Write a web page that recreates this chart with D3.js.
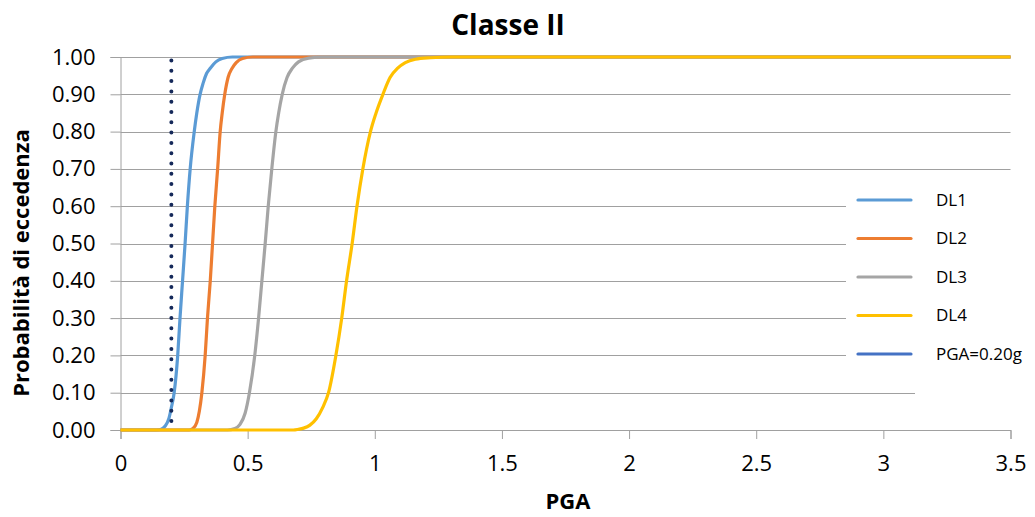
<!DOCTYPE html>
<html>
<head>
<meta charset="utf-8">
<script src="https://cdn.jsdelivr.net/npm/d3@7/dist/d3.min.js"></script>
<style>
  html, body { margin: 0; padding: 0; background: #fff; }
  svg { display: block; }
  text { font-family: "Open Sans", "Noto Sans", sans-serif; fill: #000; }
</style>
</head>
<body>
<svg id="chart" width="1035" height="517"></svg>
<script>
// Fragility curves, class II: probability of exceedance vs PGA (g)
const seriesNames = ["DL1", "DL2", "DL3", "DL4"];
const seriesColors = ["#5B9BD5", "#ED7D31", "#A5A5A5", "#FFC000"];

const dl1Pga  = [0, 0.14, 0.16,  0.175, 0.19, 0.20, 0.211, 0.225, 0.234, 0.244, 0.254, 0.263, 0.274, 0.290, 0.300, 0.313, 0.325, 0.338, 0.353, 0.375, 0.40,  0.44, 3.5];
const dl1Prob = [0, 0,    0.002, 0.01,  0.03, 0.06, 0.10,  0.20,  0.30,  0.40,  0.50,  0.60,  0.70,  0.80,  0.85,  0.90,  0.93,  0.955, 0.97,  0.987, 0.996, 1.0,  1.0];

const dl2Pga  = [0, 0.27, 0.285, 0.30, 0.31, 0.320, 0.333, 0.342, 0.353, 0.362, 0.371, 0.382, 0.392, 0.400, 0.410, 0.423, 0.439, 0.455, 0.48,  0.52, 3.5];
const dl2Prob = [0, 0,    0.004, 0.02, 0.05, 0.10,  0.20,  0.30,  0.40,  0.50,  0.60,  0.70,  0.80,  0.85,  0.90,  0.945, 0.97,  0.985, 0.996, 1.0,  1.0];

const dl3Pga  = [0, 0.42, 0.45,  0.47,  0.49,  0.507, 0.528, 0.543, 0.556, 0.569, 0.581, 0.595, 0.611, 0.622, 0.636, 0.655, 0.676, 0.70,  0.74,  0.80, 3.5];
const dl3Prob = [0, 0,    0.004, 0.015, 0.045, 0.10,  0.20,  0.30,  0.40,  0.50,  0.60,  0.70,  0.80,  0.85,  0.90,  0.945, 0.97,  0.987, 0.997, 1.0,  1.0];

const dl4Pga  = [0, 0.68, 0.70,  0.72,  0.745, 0.77, 0.795, 0.818, 0.847, 0.870, 0.889, 0.911, 0.930, 0.953, 0.983, 1.005, 1.032, 1.06,  1.09, 1.12,  1.16,  1.22,  1.30, 3.5];
const dl4Prob = [0, 0,    0.002, 0.005, 0.013, 0.03, 0.06,  0.10,  0.20,  0.30,  0.40,  0.50,  0.60,  0.70,  0.80,  0.85,  0.90,  0.945, 0.97, 0.985, 0.994, 0.998, 1.0,  1.0];

const seriesPga  = [dl1Pga, dl2Pga, dl3Pga, dl4Pga];
const seriesProb = [dl1Prob, dl2Prob, dl3Prob, dl4Prob];

// Reference shaking level
const refPga = 0.20;
const refLabel = "PGA=0.20g";
const refColor = "#15295A";
const refLegendColor = "#4472C4";

const xTicks = [0, 0.5, 1, 1.5, 2, 2.5, 3, 3.5];
const yTicks = [0, 0.1, 0.2, 0.3, 0.4, 0.5, 0.6, 0.7, 0.8, 0.9, 1.0];

const titleText = "Classe II";
const xTitle = "PGA";
const yTitle = "Probabilità di eccedenza";

const svg = d3.select("#chart");
const W = 1035, H = 517;
const plot = { left: 120.5, right: 1010.5, top: 57, bottom: 430 };

const x = d3.scaleLinear().domain([0, 3.5]).range([plot.left, plot.right]);
const y = d3.scaleLinear().domain([0, 1]).range([plot.bottom, plot.top]);

const gridColor = "#A0A0A0";

// Horizontal gridlines with small ticks left of the axis
const yAxis = d3.axisLeft(y).tickValues(yTicks).tickSize(10).tickPadding(15)
  .tickFormat(d3.format(".2f"));
const gy = svg.append("g").attr("transform", `translate(${plot.left},0)`).call(yAxis);
gy.select(".domain").attr("stroke", gridColor);
gy.selectAll(".tick line").attr("stroke", gridColor);
gy.selectAll(".tick text").attr("font-size", 22).attr("fill", "#000")
  .attr("font-family", "'Open Sans', sans-serif");

svg.append("g").selectAll("line.grid").data(yTicks.filter(d => d > 0)).join("line")
  .attr("class", "grid")
  .attr("x1", plot.left).attr("x2", plot.right)
  .attr("y1", d => Math.round(y(d)) + 0.5).attr("y2", d => Math.round(y(d)) + 0.5)
  .attr("stroke", gridColor).attr("stroke-width", 1.2);

// X axis with ticks hanging below
const xAxis = d3.axisBottom(x).tickValues(xTicks).tickSize(9).tickPadding(16)
  .tickFormat(d => d3.format("")(d));
const gx = svg.append("g").attr("transform", `translate(0,${plot.bottom})`).call(xAxis);
gx.select(".domain").attr("stroke", gridColor);
gx.selectAll(".tick line").attr("stroke", gridColor);
gx.selectAll(".tick text").attr("font-size", 22).attr("fill", "#000")
  .attr("font-family", "'Open Sans', sans-serif");

// Legend background hides the gridlines behind it
svg.append("rect").attr("x", 846).attr("y", 178).attr("width", W - 846).attr("height", 200).attr("fill", "#fff");
svg.append("rect").attr("x", 915).attr("y", 376).attr("width", W - 915).attr("height", 20).attr("fill", "#fff");

// Curves
const line = d3.line().x(d => x(d[0])).y(d => y(d[1])).curve(d3.curveMonotoneX);
seriesNames.forEach((name, i) => {
  const pts = seriesPga[i].map((v, j) => [v, seriesProb[i][j]]);
  svg.append("path").datum(pts)
    .attr("d", line)
    .attr("fill", "none")
    .attr("stroke", seriesColors[i])
    .attr("stroke-width", 3.2)
    .attr("stroke-linejoin", "round");
});

// Vertical dotted marker at the reference PGA
svg.append("line")
  .attr("x1", x(refPga)).attr("x2", x(refPga))
  .attr("y1", y(1) + 3.5).attr("y2", y(0))
  .attr("stroke", refColor)
  .attr("stroke-width", 4)
  .attr("stroke-linecap", "round")
  .attr("stroke-dasharray", "0 10.3");

// Legend
const legendNames = seriesNames.concat([refLabel]);
const legendColors = seriesColors.concat([refLegendColor]);
const lg = svg.append("g");
legendNames.forEach((name, i) => {
  const yy = 200 + i * 38.5;
  lg.append("line").attr("x1", 858).attr("x2", 911).attr("y1", yy).attr("y2", yy)
    .attr("stroke", legendColors[i]).attr("stroke-width", 3.2).attr("stroke-linecap", "round");
  lg.append("text").attr("x", 936).attr("y", yy + 5.5).attr("font-size", 17).text(name);
});

// Titles
svg.append("text").attr("x", 508).attr("y", 35).attr("text-anchor", "middle")
  .attr("font-size", 28).attr("font-weight", "bold").text(titleText);
svg.append("text").attr("x", 568).attr("y", 509).attr("text-anchor", "middle")
  .attr("font-size", 22).attr("font-weight", "bold").text(xTitle);
svg.append("text").attr("transform", "translate(29,263) rotate(-90)").attr("text-anchor", "middle")
  .attr("font-size", 22).attr("font-weight", "bold").text(yTitle);
</script>
</body>
</html>
